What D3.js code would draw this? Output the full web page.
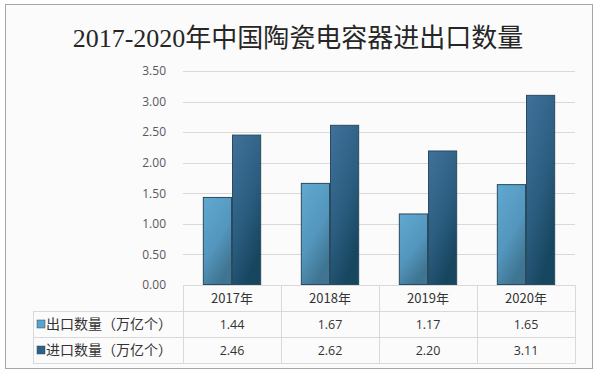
<!DOCTYPE html>
<html>
<head>
<meta charset="utf-8">
<script src="https://cdn.jsdelivr.net/npm/d3@7"></script>
<style>
body { margin: 0; background: #fff; }
</style>
</head>
<body>
<div id="chart"></div>
<script>
var title = "2017-2020年中国陶瓷电容器进出口数量";
var years = ["2017年", "2018年", "2019年", "2020年"];
var seriesNames = ["出口数量（万亿个）", "进口数量（万亿个）"];
var exportVals = [1.44, 1.67, 1.17, 1.65];
var importVals = [2.46, 2.62, 2.20, 3.11];
var yTicks = [0, 0.5, 1, 1.5, 2, 2.5, 3, 3.5];

var width = 600, height = 374;
var cjk = "'Noto Sans CJK SC', 'Open Sans', sans-serif";

var svg = d3.select("#chart")
    .append("svg")
    .attr("width", width)
    .attr("height", height)

var defs = svg.append("defs")

var g1 = defs.append("linearGradient").attr("id", "gLight")
    .attr("x1", 0).attr("y1", 0).attr("x2", 0.5).attr("y2", 1)
g1.append("stop").attr("offset", 0).attr("stop-color", "#5fa9d0")
g1.append("stop").attr("offset", 0.6).attr("stop-color", "#5496bd")
g1.append("stop").attr("offset", 1).attr("stop-color", "#3f7592")

var g2 = defs.append("linearGradient").attr("id", "gDark")
    .attr("x1", 0).attr("y1", 0).attr("x2", 0.5).attr("y2", 1)
g2.append("stop").attr("offset", 0).attr("stop-color", "#41719a")
g2.append("stop").attr("offset", 0.6).attr("stop-color", "#2b5d80")
g2.append("stop").attr("offset", 1).attr("stop-color", "#17465f")

// outer frame
svg.append("rect")
    .attr("x", 5.5).attr("y", 4.5)
    .attr("width", 587).attr("height", 364)
    .attr("fill", "#fbfbfc")
    .attr("stroke", "#a6a6a6")

svg.append("text")
    .attr("x", 298).attr("y", 47)
    .attr("text-anchor", "middle")
    .style("font-family", "'Liberation Serif', " + cjk)
    .style("font-size", "26px")
    .style("fill", "#262626")
    .text(title)

var plotLeft = 183, plotRight = 575, plotTop = 71, plotBottom = 285;

var x = d3.scaleBand().domain(years).range([plotLeft, plotRight]).paddingInner(0).paddingOuter(0)
var inner = d3.scaleBand().domain([0, 1]).range([0, x.bandwidth()]).paddingOuter(0.68).paddingInner(0)
var y = d3.scaleLinear().domain([0, 3.5]).range([plotBottom, plotTop])

// gridlines
svg.append("g")
    .selectAll("line")
    .data(yTicks.slice(1))
    .enter()
    .append("line")
    .attr("x1", plotLeft).attr("x2", plotRight)
    .attr("y1", function(d) { return Math.round(y(d)) + 0.5; })
    .attr("y2", function(d) { return Math.round(y(d)) + 0.5; })
    .attr("stroke", "#d9d9d9")

var yAxis = svg.append("g")
    .attr("transform", "translate(" + (plotLeft - 14) + ",0)")
    .call(d3.axisLeft(y).tickValues(yTicks).tickSize(0).tickFormat(d3.format(".2f")))
yAxis.select(".domain").remove()
yAxis.selectAll("text")
    .style("font-family", "'Open Sans', sans-serif")
    .style("font-size", "12px")
    .style("fill", "#595959")

var series = [exportVals, importVals];
var fills = ["url(#gLight)", "url(#gDark)"];

series.forEach(function(vals, si) {
    svg.append("g")
        .selectAll("rect")
        .data(vals)
        .enter()
        .append("rect")
        .attr("x", function(d, i) { return x(years[i]) + inner(si) + 0.5; })
        .attr("y", function(d) { return y(d) + 0.5; })
        .attr("width", inner.bandwidth() - 1)
        .attr("height", function(d) { return y(0) - y(d) - 1; })
        .attr("fill", fills[si])
        .attr("stroke", "#2a4b5f")
        .attr("stroke-width", 1)
})

// data table
var tLeft = 33, rowH = 26;
var rowsTop = plotBottom + rowH;
var tbl = svg.append("g")

tbl.append("rect")
    .attr("x", plotLeft + 0.5).attr("y", plotBottom + 0.5)
    .attr("width", plotRight - plotLeft).attr("height", rowH)
    .attr("fill", "none").attr("stroke", "#d9d9d9")
tbl.append("rect")
    .attr("x", tLeft + 0.5).attr("y", rowsTop + 0.5)
    .attr("width", plotRight - tLeft).attr("height", rowH * 2)
    .attr("fill", "none").attr("stroke", "#d9d9d9")
tbl.append("line")
    .attr("x1", tLeft).attr("x2", plotRight)
    .attr("y1", rowsTop + rowH + 0.5).attr("y2", rowsTop + rowH + 0.5)
    .attr("stroke", "#d9d9d9")
tbl.selectAll("line.col")
    .data(years)
    .enter()
    .append("line")
    .attr("class", "col")
    .attr("x1", function(d) { return Math.round(x(d)) + 0.5; })
    .attr("x2", function(d) { return Math.round(x(d)) + 0.5; })
    .attr("y1", plotBottom).attr("y2", rowsTop + rowH * 2)
    .attr("stroke", "#d9d9d9")

tbl.selectAll("text.yr")
    .data(years)
    .enter()
    .append("text")
    .attr("class", "yr")
    .attr("x", function(d) { return x(d) + x.bandwidth() / 2; })
    .attr("y", plotBottom + rowH / 2 + 5)
    .attr("text-anchor", "middle")
    .style("font-family", cjk)
    .style("font-size", "13px")
    .style("fill", "#333")
    .text(function(d) { return d; })

var keyColors = ["#5aa3cb", "#2e6186"];
series.forEach(function(vals, si) {
    var cy = rowsTop + rowH * si + rowH / 2;
    tbl.append("rect")
        .attr("x", 37).attr("y", cy - 4)
        .attr("width", 8).attr("height", 8)
        .attr("fill", keyColors[si])
        .attr("stroke", "#2a4b5f").attr("stroke-width", 0.5)
    tbl.append("text")
        .attr("x", 46).attr("y", cy + 5)
        .style("font-family", cjk)
        .style("font-size", "14px")
        .style("fill", "#333")
        .text(seriesNames[si])
    tbl.selectAll("text.v" + si)
        .data(vals)
        .enter()
        .append("text")
        .attr("x", function(d, i) { return x(years[i]) + x.bandwidth() / 2; })
        .attr("y", cy + 5)
        .attr("text-anchor", "middle")
        .style("font-family", "'Open Sans', sans-serif")
        .style("font-size", "12.5px")
        .style("fill", "#333")
        .text(function(d) { return d.toFixed(2); })
})
</script>
</body>
</html>
